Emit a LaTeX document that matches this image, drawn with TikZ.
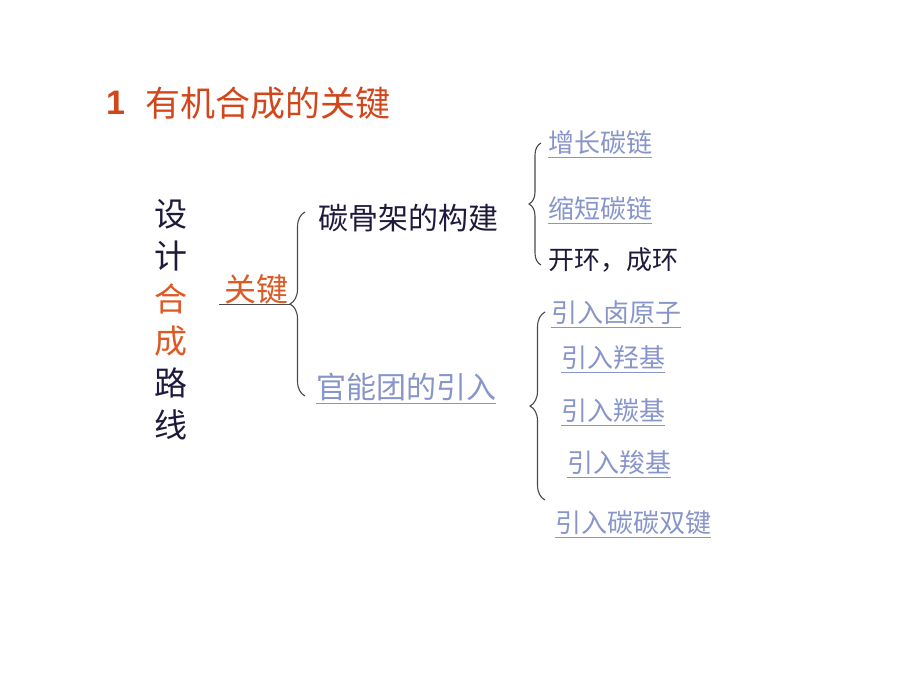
\documentclass[tikz,border=0pt]{standalone}
\usepackage{fontspec}
\newfontfamily\cjk{Noto Sans CJK SC}
\setmainfont{Liberation Sans}
\usetikzlibrary{decorations.pathreplacing}
\definecolor{titlered}{HTML}{D2461C}
\definecolor{keyorange}{HTML}{DC5A24}
\definecolor{darktext}{HTML}{1E1A3C}
\definecolor{linkblue}{HTML}{8795CA}
\definecolor{bracegrey}{HTML}{4A4A4A}
\tikzset{
  txt/.style={anchor=west, inner sep=0pt, font=\cjk},
  big/.style={txt, font=\cjk\fontsize{30}{30}\selectfont},
  small/.style={txt, font=\cjk\fontsize{26}{26}\selectfont},
  dark/.style={text=darktext},
  link/.style={text=linkblue},
  uline/.style={draw=linkblue, line width=1pt},
  bracestyle/.style={draw=bracegrey, line width=1.1pt, decorate,
     decoration={brace, amplitude=8pt, aspect=0.5}},
}
\begin{document}
\begin{tikzpicture}[x=1pt,y=-1pt]
\useasboundingbox (0,0) rectangle (920,690);
\fill[white] (0,0) rectangle (920,690);
% title
\node[anchor=west, inner sep=0pt, text=titlered, font=\bfseries\fontsize{34}{34}\selectfont] (num) at (106,103) {1};
\node[txt, text=titlered, font=\cjk\fontsize{35}{35}\selectfont] (title) at (145,103) {有机合成的关键};
% vertical text
\node[anchor=center, inner sep=0pt, font=\cjk\fontsize{33}{42.2}\selectfont, align=center] (vert) at (171,320)
  {\textcolor{darktext}{设}\\\textcolor{darktext}{计}\\\textcolor{keyorange}{合}\\\textcolor{keyorange}{成}\\\textcolor{darktext}{路}\\\textcolor{darktext}{线}};
% key
\node[txt, text=keyorange, font=\cjk\fontsize{32}{32}\selectfont] (key) at (224,289) {关键};
\coordinate (keyL) at (219,304);
\coordinate (keyR) at (290,304);
\draw[bracegrey, line width=1pt] (keyL) -- (keyR);
% first brace
\coordinate (b1bot) at (305,396);
\coordinate (b1top) at (305,212);
\draw[bracestyle, decoration={amplitude=15pt}] (b1bot) -- (b1top);
\node[big, dark] (skel) at (318,218) {碳骨架的构建};
\node[big, link] (func) at (316,387) {官能团的引入};
\draw[uline] ([yshift=-2pt]func.south west) -- ([yshift=-2pt]func.south east);
% second brace
\coordinate (b2bot) at (541,265);
\coordinate (b2top) at (541,143);
\draw[bracestyle, decoration={amplitude=12pt}] (b2bot) -- (b2top);
\node[small, link] (grow) at (548,143) {增长碳链};
\node[small, link] (short) at (548,209) {缩短碳链};
\node[small, dark] (ring) at (548,260) {开环，成环};
\draw[uline] ([yshift=-2pt]grow.south west) -- ([yshift=-2pt]grow.south east);
\draw[uline] ([yshift=-2pt]short.south west) -- ([yshift=-2pt]short.south east);
% third brace
\coordinate (b3bot) at (545,500);
\coordinate (b3top) at (545,312);
\draw[bracestyle, decoration={amplitude=15pt}] (b3bot) -- (b3top);
\node[small, link] (hal) at (551,313) {引入卤原子};
\node[small, link] (oh) at (561,358) {引入羟基};
\node[small, link] (co) at (561,411) {引入羰基};
\node[small, link] (cooh) at (567,463) {引入羧基};
\node[small, link] (cc) at (555,523) {引入碳碳双键};
\foreach \n in {hal,oh,co,cooh,cc}
  \draw[uline] ([yshift=-2pt]\n.south west) -- ([yshift=-2pt]\n.south east);
\end{tikzpicture}
\end{document}
